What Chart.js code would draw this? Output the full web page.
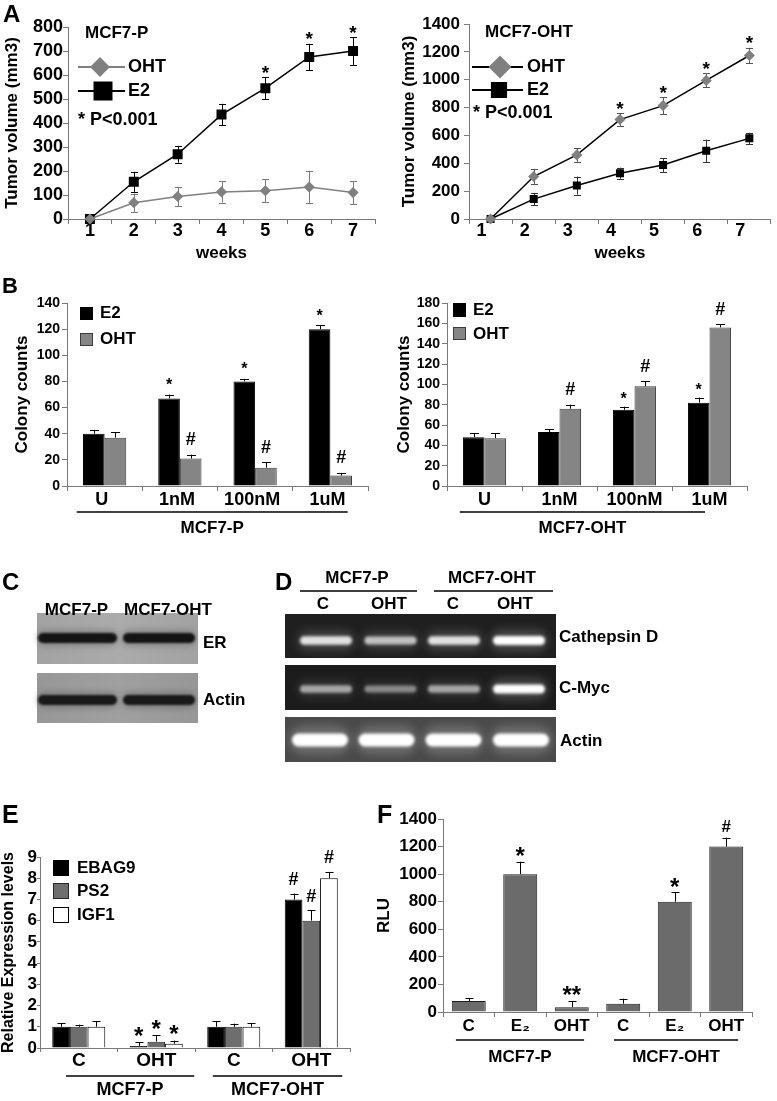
<!DOCTYPE html>
<html>
<head>
<meta charset="utf-8">
<script src="https://cdn.jsdelivr.net/npm/chart.js@4.4.1/dist/chart.umd.min.js"></script>
<style>
html, body { margin: 0; padding: 0; background: #fff; }
#page { position: relative; width: 777px; height: 1101px; overflow: hidden;
  font-family: 'Liberation Sans', Arial, sans-serif; font-weight: bold; color: #000; }
#page canvas { position: absolute; }
.lbl { position: absolute; line-height: 1; white-space: nowrap; }
</style>
</head>
<body>
<div id="page"><canvas id="blots" width="777" height="1101" style="left:0;top:0"></canvas></div>
<script>
// ---- data ----
const cellLines = ['MCF7-P', 'MCF7-OHT'];
const pNote = '* P<0.001';

// A: tumor volume (mm3) by week
const weeks = ['1', '2', '3', '4', '5', '6', '7'];
const tumorP_OHT = [0, 68, 94, 113, 118, 133, 110];
const tumorP_OHT_err = [0, 38, 40, 45, 48, 68, 48];
const tumorP_E2 = [0, 155, 270, 435, 545, 675, 700];
const tumorP_E2_err = [0, 42, 35, 45, 45, 55, 58];
const tumorP_E2_sig = ['', '', '', '', '*', '*', '*'];

const tumorR_OHT = [0, 305, 460, 714, 814, 995, 1174];
const tumorR_OHT_err = [0, 55, 50, 45, 60, 50, 55];
const tumorR_OHT_sig = ['', '', '', '*', '*', '*', '*'];
const tumorR_E2 = [0, 143, 240, 329, 388, 490, 579];
const tumorR_E2_err = [0, 45, 65, 40, 50, 80, 40];

// B: colony counts
const doses = ['U', '1nM', '100nM', '1uM'];
const colonyP_E2 = [40, 67, 80, 120];
const colonyP_E2_err = [3, 3, 2, 3];
const colonyP_E2_sig = ['', '*', '*', '*'];
const colonyP_OHT = [37, 21, 14, 8];
const colonyP_OHT_err = [4, 3, 4, 2];
const colonyP_OHT_sig = ['', '#', '#', '#'];

const colonyR_E2 = [48, 53, 75, 82];
const colonyR_E2_err = [4, 3, 3, 5];
const colonyR_E2_sig = ['', '', '*', '*'];
const colonyR_OHT = [47, 76, 98, 156];
const colonyR_OHT_err = [5, 4, 5, 3];
const colonyR_OHT_sig = ['', '#', '#', '#'];

// C / D: band intensities (0..1)
const blotLanes = cellLines;
const erBlot = [1, 1];
const actinBlot = [1, 1];
const gelLanes = ['C', 'OHT', 'C', 'OHT'];
const cathepsinD = [0.85, 0.68, 0.85, 1];
const cMyc = [0.55, 0.4, 0.55, 1];
const actinPCR = [1, 1, 1, 1];

// E: relative expression
const exprLabels = ['C', 'OHT', 'C', 'OHT'];
const exprEBAG9 = [1, 0.1, 1, 7];
const exprEBAG9_err = [0.18, 0.18, 0.25, 0.28];
const exprEBAG9_sig = ['', '*', '', '#'];
const exprPS2 = [1, 0.3, 1, 6];
const exprPS2_err = [0.1, 0.3, 0.15, 0.5];
const exprPS2_sig = ['', '*', '', '#'];
const exprIGF1 = [1, 0.2, 1, 8];
const exprIGF1_err = [0.27, 0.15, 0.18, 0.3];
const exprIGF1_sig = ['', '*', '', '#'];

// F: luciferase RLU
const rluLabels = ['C', 'E\u2082', 'OHT', 'C', 'E\u2082', 'OHT'];
const rluValues = [80, 1000, 35, 60, 800, 1200];
const rluErr = [20, 90, 45, 37, 70, 65];
const rluSig = ['', '*', '**', '', '*', '#'];

// ---- setup ----
const FONT = "'Liberation Sans', Arial, sans-serif";
const AXIS = '#7a7a7a';
Chart.defaults.font.family = FONT;
Chart.defaults.font.weight = 'bold';
Chart.defaults.color = '#000';
const page = document.getElementById('page');

function label(text, x, yc, size, align) {
    const d = document.createElement('div');
    d.className = 'lbl';
    d.textContent = text;
    d.style.fontSize = size + 'px';
    d.style.left = x + 'px';
    d.style.top = yc + 'px';
    const tx = align === 'center' ? '-50%' : align === 'right' ? '-100%' : '0';
    d.style.transform = 'translate(' + tx + ',-50%)';
    page.appendChild(d);
}

function makeCanvas(left, top, w, h) {
    const c = document.createElement('canvas');
    c.width = w; c.height = h;
    c.style.left = left + 'px'; c.style.top = top + 'px';
    c.style.width = w + 'px'; c.style.height = h + 'px';
    page.appendChild(c);
    return c;
}

// error bars; lines get both directions, bars only upward
function drawErrors(chart, opts) {
    const ctx = chart.ctx;
    const ys = chart.scales.y;
    chart.data.datasets.forEach((ds, di) => {
        if (!ds.errors) return;
        const meta = chart.getDatasetMeta(di);
        ctx.save();
        ctx.strokeStyle = ds.errorColor || '#000';
        ctx.lineWidth = 1;
        meta.data.forEach((el, i) => {
            const e = ds.errors[i];
            if (!e) return;
            const v = ds.data[i];
            const top = ys.getPixelForValue(v + e);
            const bot = opts.both ? ys.getPixelForValue(v - e) : ys.getPixelForValue(v);
            const x = Math.round(el.x) + 0.5;
            const c = (opts.cap || 8) / 2;
            ctx.beginPath();
            ctx.moveTo(x, top); ctx.lineTo(x, bot);
            ctx.moveTo(x - c, Math.round(top) + 0.5); ctx.lineTo(x + c, Math.round(top) + 0.5);
            if (opts.both) { ctx.moveTo(x - c, Math.round(bot) + 0.5); ctx.lineTo(x + c, Math.round(bot) + 0.5); }
            ctx.stroke();
        });
        ctx.restore();
    });
}
const errorBarPlugin = {
    id: 'errorBars',
    beforeDatasetsDraw(chart, args, opts) { if (opts.both) drawErrors(chart, opts); },
    afterDatasetsDraw(chart, args, opts) { if (!opts.both) drawErrors(chart, opts); }
};

// significance marks above the error bars
const sigPlugin = {
    id: 'sigMarks',
    afterDatasetsDraw(chart, args, opts) {
        const ctx = chart.ctx;
        const ys = chart.scales.y;
        chart.data.datasets.forEach((ds, di) => {
            if (!ds.sig) return;
            const meta = chart.getDatasetMeta(di);
            meta.data.forEach((el, i) => {
                const s = ds.sig[i];
                if (!s) return;
                const top = ys.getPixelForValue(ds.data[i] + (ds.errors ? ds.errors[i] : 0));
                const st = s[0] === '#' ? opts.hash : opts.star;
                ctx.save();
                ctx.font = 'bold ' + st.size + 'px ' + FONT;
                ctx.fillStyle = '#000';
                ctx.textAlign = 'center';
                ctx.textBaseline = 'alphabetic';
                const m = ctx.measureText(s);
                const yc = top - st.gap;
                ctx.fillText(s, el.x, yc + (m.actualBoundingBoxAscent - m.actualBoundingBoxDescent) / 2);
                ctx.restore();
            });
        });
    }
};

// underline + cell line name below the category labels
const groupPlugin = {
    id: 'groupLines',
    afterDraw(chart, args, opts) {
        if (!opts.groups) return;
        const ctx = chart.ctx;
        const xs = chart.scales.x;
        const b = chart.chartArea.bottom;
        opts.groups.forEach(g => {
            const x1 = xs.getPixelForValue(g.from);
            const x2 = xs.getPixelForValue(g.to);
            ctx.save();
            ctx.strokeStyle = '#000';
            ctx.lineWidth = 1.5;
            ctx.beginPath();
            ctx.moveTo(x1, b + opts.lineDy); ctx.lineTo(x2, b + opts.lineDy);
            ctx.stroke();
            ctx.font = 'bold ' + opts.size + 'px ' + FONT;
            ctx.fillStyle = '#000';
            ctx.textAlign = 'center';
            ctx.textBaseline = 'middle';
            ctx.fillText(g.label, (x1 + x2) / 2, b + opts.labelDy);
            ctx.restore();
        });
    }
};

// hand placed key inside the plot area (page coordinates)
const keyPlugin = {
    id: 'key',
    afterDraw(chart, args, opts) {
        if (!opts.items) return;
        const ctx = chart.ctx;
        const ox = opts.origin[0], oy = opts.origin[1];
        opts.items.forEach(it => {
            const ds = it.series !== undefined ? chart.data.datasets[it.series] : null;
            ctx.save();
            if (it.line) {
                ctx.strokeStyle = ds.borderColor;
                ctx.lineWidth = 2;
                ctx.beginPath();
                ctx.moveTo(it.line[0] - ox, it.y - oy); ctx.lineTo(it.line[1] - ox, it.y - oy);
                ctx.stroke();
            }
            if (it.marker) {
                ctx.fillStyle = ds.pointBackgroundColor || ds.backgroundColor;
                ctx.strokeStyle = ds.pointBackgroundColor || ds.backgroundColor;
                Chart.helpers.drawPoint(ctx, { pointStyle: ds.pointStyle, radius: it.marker[1], rotation: 0, borderWidth: 1 },
                    it.marker[0] - ox, it.y - oy);
            }
            if (it.box) {
                ctx.fillStyle = ds.backgroundColor;
                ctx.fillRect(it.box[0] - ox, it.box[1] - oy, it.box[2], it.box[3]);
                ctx.strokeStyle = ds.borderColor;
                ctx.lineWidth = 1;
                ctx.strokeRect(it.box[0] - ox + 0.5, it.box[1] - oy + 0.5, it.box[2] - 1, it.box[3] - 1);
            }
            ctx.font = 'bold ' + (it.size || 17) + 'px ' + FONT;
            ctx.fillStyle = '#000';
            ctx.textBaseline = 'middle';
            ctx.fillText(it.text !== undefined ? it.text : ds.label, it.tx - ox, it.y - oy);
            ctx.restore();
        });
    }
};

function yAxis(o) {
    return {
        min: 0, max: o.max,
        ticks: { stepSize: o.step, autoSkip: false, color: '#000', padding: o.tickPad,
            callback: v => String(v),
            font: { size: o.tickSize || 17, weight: 'bold', lineHeight: 1 } },
        grid: { drawOnChartArea: false, color: AXIS, tickLength: o.tickLen || 5 },
        border: { color: AXIS, width: 1 },
        title: { display: true, text: o.title, color: '#000', padding: { top: o.titlePad, bottom: 0 },
            font: { size: o.titleSize || 17, weight: 'bold', lineHeight: 1 } },
        afterFit: s => { s.width = o.width; }
    };
}

function xAxis(o) {
    return {
        type: 'category', offset: true,
        ticks: { color: '#000', padding: o.tickPad, autoSkip: false, maxRotation: 0,
            labelOffset: o.labelOffset || 0,
            font: { size: o.tickSize || 17, weight: 'bold', lineHeight: 1 } },
        grid: { offset: true, drawOnChartArea: false, color: AXIS, tickLength: o.tickLen || 5 },
        border: { color: AXIS, width: 1 },
        title: o.title ? { display: true, text: o.title, color: '#000', padding: { top: 0, bottom: o.titlePad },
            font: { size: 17, weight: 'bold', lineHeight: 1 } } : { display: false },
        afterFit: s => { s.height = o.height; }
    };
}

function commonPlugins(extra) {
    return Object.assign({ legend: { display: false }, tooltip: { enabled: false } }, extra);
}

// ---- A left: MCF7-P tumor volume ----
new Chart(makeCanvas(0, 10, 385, 255), {
    type: 'line',
    data: {
        labels: weeks,
        datasets: [
            { label: 'OHT', data: tumorP_OHT, errors: tumorP_OHT_err, errorColor: '#7a7a7a',
              borderColor: '#808080', backgroundColor: '#808080', pointBackgroundColor: '#808080',
              pointBorderColor: '#808080', pointStyle: 'rectRot', pointRadius: 4.5, borderWidth: 1.5,
              tension: 0, clip: false },
            { label: 'E2', data: tumorP_E2, errors: tumorP_E2_err, sig: tumorP_E2_sig, errorColor: '#000',
              borderColor: '#000', backgroundColor: '#000', pointBackgroundColor: '#000',
              pointBorderColor: '#000', pointStyle: 'rect', pointRadius: 6, borderWidth: 1.5,
              tension: 0, clip: false }
        ]
    },
    plugins: [errorBarPlugin, sigPlugin, keyPlugin],
    options: {
        responsive: false, animation: false,
        layout: { padding: { top: 17, right: 10, bottom: 0, left: 0 } },
        scales: {
            x: xAxis({ height: 46, tickPad: -2, tickSize: 18, title: 'weeks', titlePad: 3.5 }),
            y: yAxis({ max: 800, step: 100, width: 68, tickPad: 0, tickSize: 18, title: 'Tumor volume (mm3)', titlePad: 4 })
        },
        plugins: commonPlugins({
            errorBars: { both: true, cap: 7 },
            sigMarks: { star: { size: 19, gap: 8 }, hash: { size: 17, gap: 8 } },
            key: {
                origin: [0, 10],
                items: [
                    { text: cellLines[0], tx: 85, y: 33, size: 17 },
                    { series: 0, line: [78, 125], marker: [100, 8.5], tx: 128, y: 67, size: 18 },
                    { series: 1, line: [78, 125], marker: [103, 12], tx: 128, y: 91, size: 18 },
                    { text: pNote, tx: 78, y: 120, size: 18 }
                ]
            }
        })
    }
});

// ---- A right: MCF7-OHT tumor volume ----
new Chart(makeCanvas(390, 10, 387, 255), {
    type: 'line',
    data: {
        labels: weeks,
        datasets: [
            { label: 'OHT', data: tumorR_OHT, errors: tumorR_OHT_err, sig: tumorR_OHT_sig, errorColor: '#555',
              borderColor: '#000', backgroundColor: '#000', pointBackgroundColor: '#808080',
              pointBorderColor: '#808080', pointStyle: 'rectRot', pointRadius: 4.5, borderWidth: 1.5,
              tension: 0, clip: false },
            { label: 'E2', data: tumorR_E2, errors: tumorR_E2_err, errorColor: '#333',
              borderColor: '#000', backgroundColor: '#000', pointBackgroundColor: '#000',
              pointBorderColor: '#000', pointStyle: 'rect', pointRadius: 4.6, borderWidth: 1.5,
              tension: 0, clip: false }
        ]
    },
    plugins: [errorBarPlugin, sigPlugin, keyPlugin],
    options: {
        responsive: false, animation: false,
        layout: { padding: { top: 14, right: 4, bottom: 0, left: 0 } },
        scales: {
            x: xAxis({ height: 46, tickPad: -2, tickSize: 18, labelOffset: -9, title: 'weeks', titlePad: 3.5 }),
            y: yAxis({ max: 1400, step: 200, width: 79, tickPad: 4, tickSize: 17, title: 'Tumor volume (mm3)', titlePad: 10.5 })
        },
        plugins: commonPlugins({
            errorBars: { both: true, cap: 7 },
            sigMarks: { star: { size: 19, gap: 8 }, hash: { size: 17, gap: 8 } },
            key: {
                origin: [390, 10],
                items: [
                    { text: cellLines[1], tx: 485, y: 32, size: 17 },
                    { series: 0, line: [472, 523], marker: [500, 10], tx: 527, y: 67, size: 18 },
                    { series: 1, line: [472, 523], marker: [499, 10], tx: 527, y: 90, size: 18 },
                    { text: pNote, tx: 473, y: 113, size: 18 }
                ]
            }
        })
    }
});

// ---- B left: MCF7-P colonies ----
new Chart(makeCanvas(0, 285, 385, 260), {
    type: 'bar',
    data: {
        labels: doses,
        datasets: [
            { label: 'E2', data: colonyP_E2, errors: colonyP_E2_err, sig: colonyP_E2_sig,
              backgroundColor: '#000', borderColor: '#000', borderWidth: 1 },
            { label: 'OHT', data: colonyP_OHT, errors: colonyP_OHT_err, sig: colonyP_OHT_sig,
              backgroundColor: '#858585', borderColor: '#3c3c3c', borderWidth: 1 }
        ]
    },
    plugins: [errorBarPlugin, sigPlugin, groupPlugin, keyPlugin],
    options: {
        responsive: false, animation: false,
        datasets: { bar: { barPercentage: 1, categoryPercentage: 0.575 } },
        layout: { padding: { top: 18, right: 17, bottom: 0, left: 0 } },
        scales: {
            x: xAxis({ height: 59, tickPad: 0, labelOffset: -3, tickSize: 18 }),
            y: yAxis({ max: 140, step: 20, width: 67, tickPad: 2, tickSize: 14, title: 'Colony counts', titlePad: 14 })
        },
        plugins: commonPlugins({
            errorBars: { both: false, cap: 9 },
            sigMarks: { star: { size: 16, gap: 13 }, hash: { size: 18, gap: 16 } },
            groupLines: { lineDy: 26, labelDy: 42, size: 17,
                groups: [{ label: cellLines[0], from: -0.37, to: 3.23 }] },
            key: {
                origin: [0, 285],
                items: [
                    { series: 0, box: [80, 307, 13, 13], tx: 100, y: 313, size: 17 },
                    { series: 1, box: [80, 333, 13, 13], tx: 100, y: 339, size: 17 }
                ]
            }
        })
    }
});

// ---- B right: MCF7-OHT colonies ----
new Chart(makeCanvas(390, 285, 387, 260), {
    type: 'bar',
    data: {
        labels: doses,
        datasets: [
            { label: 'E2', data: colonyR_E2, errors: colonyR_E2_err, sig: colonyR_E2_sig,
              backgroundColor: '#000', borderColor: '#000', borderWidth: 1 },
            { label: 'OHT', data: colonyR_OHT, errors: colonyR_OHT_err, sig: colonyR_OHT_sig,
              backgroundColor: '#858585', borderColor: '#3c3c3c', borderWidth: 1 }
        ]
    },
    plugins: [errorBarPlugin, sigPlugin, groupPlugin, keyPlugin],
    options: {
        responsive: false, animation: false,
        datasets: { bar: { barPercentage: 1, categoryPercentage: 0.575 } },
        layout: { padding: { top: 18, right: 30, bottom: 0, left: 0 } },
        scales: {
            x: xAxis({ height: 59, tickPad: 0, tickSize: 18 }),
            y: yAxis({ max: 180, step: 20, width: 57, tickPad: 2, tickSize: 14, title: 'Colony counts', titlePad: 5.5 })
        },
        plugins: commonPlugins({
            errorBars: { both: false, cap: 9 },
            sigMarks: { star: { size: 16, gap: 11 }, hash: { size: 18, gap: 16 } },
            groupLines: { lineDy: 26, labelDy: 42, size: 17,
                groups: [{ label: cellLines[1], from: -0.33, to: 2.94 }] },
            key: {
                origin: [390, 285],
                items: [
                    { series: 0, box: [453, 303, 13, 14], tx: 473, y: 310, size: 17 },
                    { series: 1, box: [453, 327, 13, 13], tx: 473, y: 334, size: 17 }
                ]
            }
        })
    }
});

// ---- E: relative expression ----
new Chart(makeCanvas(0, 830, 370, 270), {
    type: 'bar',
    data: {
        labels: exprLabels,
        datasets: [
            { label: 'EBAG9', data: exprEBAG9, errors: exprEBAG9_err, sig: exprEBAG9_sig,
              backgroundColor: '#000', borderColor: '#000', borderWidth: 1 },
            { label: 'PS2', data: exprPS2, errors: exprPS2_err, sig: exprPS2_sig,
              backgroundColor: '#6e6e6e', borderColor: '#2a2a2a', borderWidth: 1 },
            { label: 'IGF1', data: exprIGF1, errors: exprIGF1_err, sig: exprIGF1_sig,
              backgroundColor: '#fff', borderColor: '#000', borderWidth: 1 }
        ]
    },
    plugins: [errorBarPlugin, sigPlugin, groupPlugin, keyPlugin],
    options: {
        responsive: false, animation: false,
        datasets: { bar: { barPercentage: 1, categoryPercentage: 0.684 } },
        layout: { padding: { top: 27, right: 20, bottom: 0, left: 0 } },
        scales: {
            x: xAxis({ height: 52, tickPad: -1, tickLen: 4, tickSize: 19 }),
            y: yAxis({ max: 9, step: 1, width: 40, tickPad: 0, tickLen: 3, tickSize: 17,
                title: 'Relative Expression levels', titleSize: 16, titlePad: 0.5 })
        },
        plugins: commonPlugins({
            errorBars: { both: false, cap: 8 },
            sigMarks: { star: { size: 24, gap: 11 }, hash: { size: 18, gap: 15 } },
            groupLines: { lineDy: 28, labelDy: 42, size: 18,
                groups: [{ label: cellLines[0], from: -0.165, to: 1.49 },
                         { label: cellLines[1], from: 1.73, to: 3.4 }] },
            key: {
                origin: [0, 830],
                items: [
                    { series: 0, box: [53, 860, 16, 16], tx: 77, y: 868, size: 17 },
                    { series: 1, box: [53, 883, 16, 16], tx: 77, y: 891, size: 17 },
                    { series: 2, box: [53, 907, 16, 16], tx: 77, y: 915, size: 17 }
                ]
            }
        })
    }
});

// ---- F: luciferase ----
new Chart(makeCanvas(370, 800, 407, 280), {
    type: 'bar',
    data: {
        labels: rluLabels,
        datasets: [
            { label: 'RLU', data: rluValues, errors: rluErr, sig: rluSig,
              backgroundColor: '#6b6b6b', borderColor: '#1e1e1e', borderWidth: 1 }
        ]
    },
    plugins: [errorBarPlugin, sigPlugin, groupPlugin],
    options: {
        responsive: false, animation: false,
        datasets: { bar: { barPercentage: 1, categoryPercentage: 0.66 } },
        layout: { padding: { top: 19, right: 25, bottom: 0, left: 0 } },
        scales: {
            x: xAxis({ height: 68, tickPad: 1, tickSize: 17 }),
            y: yAxis({ max: 1400, step: 200, width: 73, tickPad: 1, tickSize: 17, title: 'RLU', titlePad: 5.5 })
        },
        plugins: commonPlugins({
            errorBars: { both: false, cap: 8 },
            sigMarks: { star: { size: 24, gap: 10 }, hash: { size: 17, gap: 12 } },
            groupLines: { lineDy: 28, labelDy: 45, size: 17,
                groups: [{ label: cellLines[0], from: -0.25, to: 2.24 },
                         { label: cellLines[1], from: 2.82, to: 5.23 }] }
        })
    }
});

// ---- C and D: blot and gel pictures ----
const bctx = document.getElementById('blots').getContext('2d');
function pill(cx, cy, w, h, color, blur) {
    bctx.save();
    bctx.filter = 'blur(' + blur + 'px)';
    bctx.fillStyle = color;
    bctx.beginPath();
    if (bctx.roundRect) bctx.roundRect(cx - w / 2, cy - h / 2, w, h, h / 2);
    else bctx.rect(cx - w / 2, cy - h / 2, w, h);
    bctx.fill();
    bctx.restore();
}
function grayBox(x, y, w, h, c1, c2) {
    const g = bctx.createLinearGradient(x, y, x + w, y);
    g.addColorStop(0, c1); g.addColorStop(0.5, c2); g.addColorStop(1, c1);
    bctx.fillStyle = g;
    bctx.fillRect(x, y, w, h);
}

// western blot (C)
const wbLaneX = [77.5, 159], wbLaneW = [79, 72];
grayBox(37, 613, 161, 51, '#a2a2a2', '#ababab');
erBlot.forEach((v, i) => {
    pill(wbLaneX[i], 638, wbLaneW[i] + 2, 16, 'rgba(70,70,70,0.35)', 3);
    pill(wbLaneX[i], 638, wbLaneW[i], 10, 'rgba(20,20,20,' + v + ')', 1.2);
});
grayBox(37, 673, 161, 50, '#979797', '#a0a0a0');
actinBlot.forEach((v, i) => {
    pill(wbLaneX[i], 700, wbLaneW[i] + 2, 16, 'rgba(70,70,70,0.35)', 3);
    pill(wbLaneX[i], 700, wbLaneW[i], 10, 'rgba(25,25,25,' + v + ')', 1.2);
});

// RT-PCR gels (D)
function gel(y, h, bg, laneX, laneW, bandY, bandH, levels) {
    bctx.fillStyle = bg;
    bctx.fillRect(285, y, 271, h);
    levels.forEach((v, i) => {
        const g = Math.round(60 + 195 * v);
        pill(laneX[i], bandY, laneW + 6, bandH * (0.8 + v) + 6, 'rgba(255,255,255,' + (0.18 * v) + ')', 4);
        pill(laneX[i], bandY, laneW, bandH * (0.6 + 0.4 * v), 'rgb(' + g + ',' + g + ',' + g + ')', 1.5);
    });
}
const pcrX = [326, 390.5, 454, 519];
gel(614, 44, '#1f1f1f', pcrX, 52, 640.5, 9, cathepsinD);
gel(665, 45, '#1c1c1c', pcrX, 52, 689, 9, cMyc);
gel(717, 45, '#4a4a4a', [320, 386.5, 453.5, 521], 56, 740, 13, actinPCR);

bctx.strokeStyle = '#000';
bctx.lineWidth = 1.5;
bctx.beginPath();
bctx.moveTo(300, 591); bctx.lineTo(417, 591);
bctx.moveTo(434, 591); bctx.lineTo(553, 591);
bctx.stroke();

// ---- text labels ----
label('A', 3, 13.5, 24, 'left');
label('B', 2, 285.5, 22, 'left');
label('C', 2, 581.5, 24, 'left');
label('D', 275, 581.5, 24, 'left');
label('E', 2, 814, 25, 'left');
label('F', 377, 814, 25, 'left');

label(blotLanes[0], 76.5, 608.5, 17, 'center');
label(blotLanes[1], 168, 608.5, 17, 'center');
label('ER', 203, 641.5, 17, 'left');
label('Actin', 203, 699, 17, 'left');

label(cellLines[0], 357, 576.5, 17, 'center');
label(cellLines[1], 492, 576.5, 17, 'center');
[323, 389, 453, 515].forEach((x, i) => label(gelLanes[i], x, 602.5, 17, 'center'));
label('Cathepsin D', 559, 636, 17, 'left');
label('C-Myc', 559, 687, 17, 'left');
label('Actin', 560, 740, 17, 'left');
</script>
</body>
</html>
